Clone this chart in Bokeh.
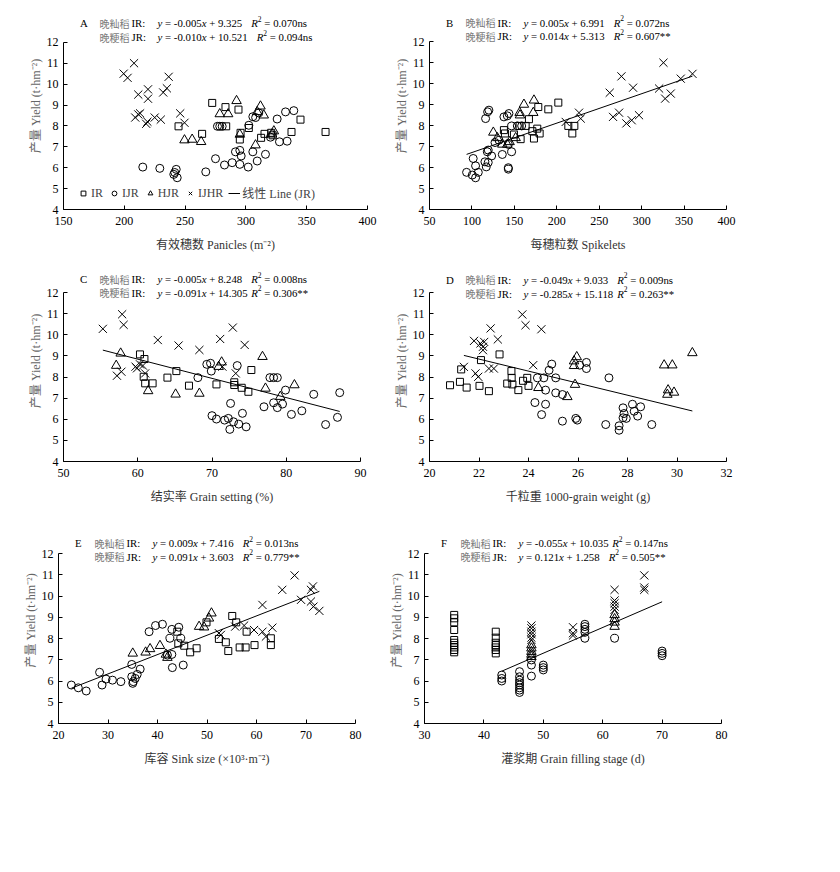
from bokeh.plotting import figure
from bokeh.models import Range1d, FixedTicker, Label, Legend, LegendItem
from bokeh.layouts import column, row
from bokeh.embed import file_html
from bokeh.resources import INLINE

# ---------------- data ----------------
Y_TICKS = [4, 5, 6, 7, 8, 9, 10, 11, 12]
Y_LABEL = "产量 Yield (t·hm⁻²)"

# Panel A: panicles
A_IR_x = [244.6, 264.0, 272.3, 283.2, 283.8, 293.9, 295.6, 295.0, 302.4, 312.5, 315.3, 320.8, 337.5, 344.9, 365.5, 322.0]
A_IR_y = [7.98, 7.62, 9.10, 8.90, 7.98, 8.78, 7.67, 7.35, 7.90, 7.43, 7.62, 7.67, 7.71, 8.30, 7.71, 7.55]
A_IJR_x = [215.2, 229.2, 240.7, 242.7, 243.5, 241.5, 267.0, 275.0, 282.4, 288.7, 291.4, 295.0, 296.1, 295.0, 301.9, 305.7,
           309.3, 316.1, 302.4, 305.7, 308.0, 310.6, 325.7, 332.6, 339.4, 327.6, 333.9, 320.2, 278.5, 280.5, 276.6]
A_IJR_y = [6.03, 5.97, 5.68, 5.92, 5.52, 5.77, 5.80, 6.43, 6.13, 6.24, 6.76, 6.83, 6.56, 6.16, 6.03, 6.76,
           6.32, 6.64, 8.03, 8.44, 8.40, 8.62, 8.33, 8.67, 8.73, 7.24, 7.27, 7.46, 7.98, 7.98, 7.98]
A_HJR_x = [292.3, 278.5, 285.4, 312.0, 309.3, 314.7, 295.0, 307.9, 323.0, 321.5, 249.5, 255.8, 263.2]
A_HJR_y = [9.20, 8.57, 8.57, 8.94, 8.67, 8.51, 7.59, 7.08, 7.75, 7.60, 7.32, 7.35, 7.24]
A_IJHR_x = [199.5, 202.7, 208.0, 211.5, 209.0, 211.5, 213.0, 219.5, 219.5, 218.0, 219.0, 225.0, 230.0, 232.0, 235.0, 236.5, 246.0, 249.5]
A_IJHR_y = [10.50, 10.30, 11.00, 9.50, 8.40, 8.55, 8.60, 9.75, 9.30, 8.10, 8.20, 8.40, 8.30, 9.60, 9.80, 10.35, 8.60, 8.15]

# Panel B: spikelets
B_IR_x = [201.8, 190.0, 178.2, 167.2, 156.2, 137.7, 138.9, 157.4, 173.1, 171.2, 177.0, 179.8, 213.6, 220.7, 218.3, 149.5, 163.3]
B_IR_y = [9.09, 8.77, 8.88, 8.30, 7.98, 7.78, 7.62, 7.35, 7.38, 7.73, 7.85, 7.62, 7.98, 7.98, 7.62, 7.57, 7.98]
B_IJR_x = [93.7, 100.4, 104.3, 107.5, 101.5, 104.3, 115.3, 116.9, 119.2, 123.2, 118.1, 119.2, 135.8, 146.8, 142.9, 142.9,
           116.1, 118.5, 120.0, 137.7, 141.7, 143.6, 146.8, 153.5, 158.6, 127.2, 131.9, 142.9]
B_IJR_y = [5.77, 5.64, 5.51, 5.77, 6.43, 6.08, 6.27, 6.03, 6.24, 6.55, 6.75, 6.83, 6.62, 6.75, 5.99, 5.92,
           8.33, 8.65, 8.73, 8.41, 8.46, 8.57, 7.98, 7.98, 7.98, 7.19, 7.30, 7.10]
B_HJR_x = [173.1, 161.3, 156.2, 156.6, 172.3, 125.2, 129.9, 135.8, 144.4, 141.7, 151.5]
B_HJR_y = [9.20, 9.00, 8.61, 8.49, 8.61, 7.67, 7.41, 7.10, 7.22, 7.10, 7.41]
B_IJHR_x = [325.7, 276.2, 262.4, 289.9, 320.6, 327.7, 334.3, 346.1, 359.9, 226.2, 228.2, 210.5, 266.3, 273.4, 282.0, 288.3, 296.9]
B_IJHR_y = [10.99, 10.34, 9.56, 9.80, 9.76, 9.28, 9.52, 10.23, 10.46, 8.61, 8.33, 8.17, 8.41, 8.61, 8.10, 8.25, 8.49]

# Panel C: grain setting
C_IR_x = [60.3, 60.9, 60.8, 61.0, 62.0, 64.0, 65.2, 66.9, 70.6, 73.0, 73.0, 74.0, 74.9, 75.3]
C_IR_y = [9.07, 8.85, 8.01, 7.70, 7.70, 7.97, 8.28, 7.59, 7.65, 7.75, 7.62, 7.49, 7.30, 8.33]
C_IJR_x = [69.3, 69.8, 69.9, 68.1, 73.4, 77.8, 78.3, 78.8, 79.9, 83.7, 87.2, 77.0, 78.3, 78.8, 79.5, 80.7, 82.1, 85.3,
           86.9, 70.0, 70.6, 71.7, 72.2, 72.4, 72.5, 72.9, 73.6, 74.1, 74.6]
C_IJR_y = [8.60, 8.65, 8.28, 7.97, 8.54, 7.97, 7.97, 7.97, 7.38, 7.18, 7.26, 6.59, 6.78, 6.55, 6.72, 6.23, 6.40, 5.75,
           6.09, 6.17, 6.01, 5.96, 6.04, 5.52, 6.75, 5.88, 5.77, 6.28, 5.64]
C_HJR_x = [57.7, 57.1, 61.4, 65.1, 68.3, 71.3, 70.9, 76.8, 77.2, 79.2, 81.1]
C_HJR_y = [9.12, 8.54, 7.34, 7.18, 7.22, 8.70, 8.49, 8.96, 7.46, 7.07, 7.62]
C_IJHR_x = [55.3, 57.9, 58.1, 62.7, 65.5, 68.3, 71.1, 72.8, 74.4, 57.2, 57.8, 59.7, 59.9, 60.3, 60.7, 61.0, 71.4, 73.2]
C_IJHR_y = [10.28, 10.97, 10.47, 9.75, 9.49, 9.28, 9.80, 10.34, 9.52, 8.06, 8.25, 8.49, 8.41, 8.60, 8.54, 8.17, 8.49, 8.17]

# Panel D: 1000-grain weight
D_IR_x = [20.83, 21.23, 21.28, 21.50, 22.02, 22.08, 22.40, 22.83, 23.14, 23.32, 23.31, 23.35, 23.59, 23.78, 23.95, 24.00]
D_IR_y = [7.61, 7.77, 8.36, 7.50, 7.58, 8.80, 7.33, 9.07, 7.69, 7.96, 8.28, 7.65, 7.38, 7.82, 7.96, 7.58]
D_IJR_x = [24.94, 24.83, 24.36, 24.62, 25.10, 24.69, 25.10, 25.37, 24.26, 24.69, 24.53, 25.37, 25.91, 25.97, 26.07,
           26.34, 26.34, 27.25, 27.12, 27.66, 27.66, 27.82, 27.86, 27.82, 27.95, 28.20, 28.27, 28.41, 28.53, 28.98]
D_IJR_y = [8.61, 8.32, 7.96, 7.96, 7.96, 7.38, 7.25, 7.17, 6.79, 6.71, 6.22, 5.91, 6.04, 5.96, 8.56,
           8.69, 8.40, 7.96, 5.75, 5.69, 5.48, 6.54, 6.27, 6.07, 6.04, 6.71, 6.38, 6.15, 6.59, 5.75]
D_HJR_x = [25.95, 25.84, 25.84, 25.88, 24.40, 25.57, 29.48, 29.81, 30.62, 29.64, 29.61, 29.88]
D_HJR_y = [8.95, 8.75, 8.53, 7.64, 7.49, 7.06, 8.56, 8.56, 9.14, 7.38, 7.17, 7.27]
D_IJHR_x = [21.39, 21.80, 21.86, 21.97, 22.06, 22.16, 22.21, 22.16, 22.47, 22.76, 22.40, 22.60, 23.75, 23.88, 24.52, 24.19]
D_IJHR_y = [8.48, 9.71, 8.17, 8.01, 9.59, 9.43, 9.66, 9.27, 10.30, 9.78, 8.40, 8.40, 10.96, 10.45, 10.26, 8.56]

# Panel E: sink size
E_IR_x = [55.1, 55.9, 58.0, 52.4, 53.8, 54.3, 56.6, 57.8, 59.6, 62.9, 62.9, 49.9, 44.0, 44.2, 45.4, 46.6, 47.9]
E_IR_y = [9.06, 8.76, 8.32, 7.98, 7.82, 7.41, 7.58, 7.58, 7.69, 8.01, 7.69, 8.76, 8.32, 7.77, 7.66, 7.35, 7.54]
E_IJR_x = [22.6, 24.0, 25.6, 28.3, 28.8, 29.6, 30.9, 32.6, 34.8, 35.1, 35.5, 35.9, 36.5, 34.8, 35.0, 38.3, 39.6, 41.0,
           42.9, 44.3, 42.5, 44.7, 42.9, 43.0, 45.2, 42.0]
E_IJR_y = [5.81, 5.68, 5.53, 6.41, 5.81, 6.09, 6.04, 5.97, 6.20, 5.97, 6.12, 6.31, 6.56, 6.78, 5.89, 8.32, 8.61, 8.67,
           8.43, 8.53, 8.01, 8.01, 7.25, 6.63, 6.75, 7.22]
E_HJR_x = [50.9, 50.4, 48.4, 49.4, 35.0, 37.6, 38.5, 40.5, 41.7, 42.0]
E_HJR_y = [9.19, 8.95, 8.56, 8.53, 7.30, 7.35, 7.51, 7.66, 7.25, 7.10]
E_IJHR_x = [67.7, 65.2, 71.4, 71.0, 69.0, 71.0, 71.5, 72.7, 61.2, 55.7, 57.5, 59.5, 61.2, 61.9, 63.2, 52.4, 52.8]
E_IJHR_y = [10.97, 10.29, 10.45, 10.29, 9.82, 9.74, 9.50, 9.30, 9.58, 8.56, 8.61, 8.40, 8.32, 8.09, 8.51, 8.25, 8.17]

# Panel F: grain filling stage
F_IR_x = [35, 35, 35, 35, 35, 35, 35, 35, 35, 35, 42, 42, 42, 42, 42, 42, 42]
F_IR_y = [9.11, 8.95, 8.76, 8.40, 7.93, 7.80, 7.69, 7.58, 7.46, 7.35, 8.32, 8.04, 7.80, 7.69, 7.58, 7.46, 7.30]
F_IJR_x = [43, 43, 43, 46, 46, 46, 46, 46, 46, 46, 46, 48, 48, 48, 50, 50, 50, 57, 57, 57, 57, 57, 62, 70, 70, 70]
F_IJR_y = [6.28, 6.12, 6.00, 6.44, 6.20, 6.04, 5.92, 5.81, 5.68, 5.57, 5.46, 6.99, 6.75, 6.23, 6.75, 6.63, 6.52,
           8.67, 8.56, 8.43, 8.29, 8.01, 8.01, 7.41, 7.30, 7.19]
F_HJR_x = [48, 48, 48, 48, 48, 62, 62, 62, 62]
F_HJR_y = [7.69, 7.54, 7.38, 7.25, 7.14, 9.11, 8.92, 8.76, 8.56]
F_IJHR_x = [48, 48, 48, 48, 48, 48, 55, 55, 55, 62, 62, 62, 62, 62, 67, 67, 67]
F_IJHR_y = [8.61, 8.48, 8.32, 8.20, 8.04, 7.93, 8.53, 8.25, 8.14, 10.29, 9.79, 9.66, 9.50, 9.35, 10.97, 10.40, 10.29]

# header equations: (slope, intercept, R2+significance)
PANEL_LETTERS = ["A", "B", "C", "D", "E", "F"]
X_LABELS = ["有效穗数 Panicles (m⁻²)", "每穗粒数 Spikelets", "结实率 Grain setting (%)",
            "千粒重 1000-grain weight (g)", "库容 Sink size (×10³·m⁻²)", "灌浆期 Grain filling stage (d)"]
X_RANGES = [(150, 400), (50, 400), (50, 90), (20, 32), (20, 80), (30, 80)]
X_TICKS = [[150, 200, 250, 300, 350, 400], [50, 100, 150, 200, 250, 300, 350, 400], [50, 60, 70, 80, 90],
           [20, 22, 24, 26, 28, 30, 32], [20, 30, 40, 50, 60, 70, 80], [30, 40, 50, 60, 70, 80]]
IR_EQ = [("-0.005", "9.325", "0.070ns"), ("0.005", "6.991", "0.072ns"), ("-0.005", "8.248", "0.008ns"),
         ("-0.049", "9.033", "0.009ns"), ("0.009", "7.416", "0.013ns"), ("-0.055", "10.035", "0.147ns")]
JR_EQ = [("-0.010", "10.521", "0.094ns"), ("0.014", "5.313", "0.607**"), ("-0.091", "14.305", "0.306**"),
         ("-0.285", "15.118", "0.263**"), ("0.091", "3.603", "0.779**"), ("0.121", "1.258", "0.505**")]
JR_CODES = ["晚粳稻 JR:", "晚粳稻 JR:", "晚粳稻 IR:", "晚粳稻 JR:", "晚粳稻 JR:", "晚粳稻 JR:"]
IR_CODE = "晚籼稻 IR:"
SHOW_JR_LINE = [False, True, True, True, True, True]

DATA = [
    (A_IR_x, A_IR_y, A_IJR_x, A_IJR_y, A_HJR_x, A_HJR_y, A_IJHR_x, A_IJHR_y),
    (B_IR_x, B_IR_y, B_IJR_x, B_IJR_y, B_HJR_x, B_HJR_y, B_IJHR_x, B_IJHR_y),
    (C_IR_x, C_IR_y, C_IJR_x, C_IJR_y, C_HJR_x, C_HJR_y, C_IJHR_x, C_IJHR_y),
    (D_IR_x, D_IR_y, D_IJR_x, D_IJR_y, D_HJR_x, D_HJR_y, D_IJHR_x, D_IJHR_y),
    (E_IR_x, E_IR_y, E_IJR_x, E_IJR_y, E_HJR_x, E_HJR_y, E_IJHR_x, E_IJHR_y),
    (F_IR_x, F_IR_y, F_IJR_x, F_IJR_y, F_HJR_x, F_HJR_y, F_IJHR_x, F_IJHR_y),
]

# ---------------- layout / style ----------------
LATIN = "'Liberation Serif'"
MIXED = "'Liberation Serif', 'Noto Sans CJK SC'"
CJK = "'Noto Sans CJK SC'"
GREY = "#7a7a7a"

# (width, height, border_left, border_right, border_top, border_bottom); page has no body margin
GEOM = [(380, 258, 63, 13, 42, 48), (452, 258, 49, 106, 41, 49),
        (380, 257, 63, 20, 34, 54), (452, 257, 49, 106, 34, 54),
        (375, 260, 58, 20, 38, 52), (457, 260, 49, 111, 38, 52)]
TOP_PAD = 2
# header baselines above the y=12 level (line 1, line 2)
HDR = [(18.5, 4.5), (18.7, 5.2), (13.3, -0.4), (13.0, -1.3), (10.3, -3.4), (10.3, -3.4)]
GAP1 = [9, 9, 9, 9, 9, 3.5]
GAP2 = [9, 9, 3.5, 3.5, 9, 9]

HS = 10.8  # header font size
W_REG = {' ': 0.25, '=': 0.564, '+': 0.564, '-': 0.333, '.': 0.25, ':': 0.278, '*': 0.5,
         'n': 0.5, 's': 0.389, 'I': 0.333, 'R': 0.667, 'J': 0.389}
W_IT = {'x': 0.444, 'y': 0.444, 'R': 0.611}


def tw(s, italic=False, size=HS):
    tbl = W_IT if italic else W_REG
    return sum(tbl.get(c, 0.5) for c in s) * size


def lab(p, x, y, text, font=LATIN, size=HS, color="black", style="normal"):
    p.add_layout(Label(x=x, y=y, x_units="screen", y_units="screen", text=text,
                       text_font=font, text_font_size=f"{size}px", text_color=color,
                       text_font_style=style, text_baseline="alphabetic", text_align="left"))


def header_line(p, x0, yb, code, eq, gap):
    cn, en = code.split(" ")
    lab(p, x0, yb, cn, font=CJK, size=10, color=GREY)
    lab(p, x0 + 32, yb, en)
    c = x0 + 58
    lab(p, c, yb, "y", style="italic")
    c += tw("y", True) + tw(" ")
    t1 = "= " + eq[0]
    lab(p, c, yb, t1)
    c += tw(t1)
    lab(p, c, yb, "x", style="italic")
    c += tw("x", True) + tw(" ")
    t2 = "+ " + eq[1]
    lab(p, c, yb, t2)
    c += tw(t2) + gap
    lab(p, c, yb, "R", style="italic")
    c += tw("R", True)
    lab(p, c, yb + 4.5, "2", size=7.5)
    c += 3.8 + tw(" ")
    lab(p, c, yb, "= " + eq[2])


def build(i):
    W, H, bl, br, bt, bb = GEOM[i]
    fh = H - bt - bb                 # height of the 4..12 band
    extra = bt - TOP_PAD             # header room kept inside the frame
    y_top = 12 + extra * 8.0 / fh
    p = figure(width=W, height=H, output_backend="svg", toolbar_location=None,
               x_range=Range1d(*X_RANGES[i]), y_range=Range1d(4, y_top),
               min_border_left=bl, min_border_right=br, min_border_top=TOP_PAD, min_border_bottom=bb)
    p.outline_line_color = None
    p.grid.visible = False
    p.background_fill_color = "white"
    p.border_fill_color = "white"
    p.xaxis.ticker = FixedTicker(ticks=X_TICKS[i])
    p.yaxis.ticker = FixedTicker(ticks=Y_TICKS)
    p.yaxis.bounds = (4, 12)
    p.xaxis.axis_label = X_LABELS[i]
    p.yaxis.axis_label = Y_LABEL
    for ax in (p.xaxis[0], p.yaxis[0]):
        ax.major_tick_in = 4
        ax.major_tick_out = 0
        ax.minor_tick_line_color = None
        ax.axis_line_color = "black"
        ax.major_tick_line_color = "black"
        ax.major_label_text_font = LATIN
        ax.major_label_text_font_size = "12px"
        ax.major_label_text_color = "black"
        ax.axis_label_text_font = MIXED
        ax.axis_label_text_font_size = "12px"
        ax.axis_label_text_font_style = "normal"
    p.xaxis.major_label_standoff = 7
    p.xaxis.axis_label_standoff = 10
    p.xaxis.axis_label_text_color = "#333333"
    p.yaxis.major_label_standoff = 5
    p.yaxis.axis_label_standoff = 1
    p.yaxis.axis_label_text_color = "#666666"

    irx, iry, ijx, ijy, hjx, hjy, ihx, ihy = DATA[i]
    common = dict(line_color="black", fill_color=None, line_width=1)
    r_ir = p.scatter(irx, iry, marker="square", size=7, **common)
    r_ij = p.scatter(ijx, ijy, marker="circle", size=8, **common)
    r_hj = p.scatter(hjx, hjy, marker="triangle", size=9.5, **common)
    r_ih = p.scatter(ihx, ihy, marker="x", size=11.5, **common)

    if SHOW_JR_LINE[i]:
        jx = ijx + hjx + ihx
        a, b = float(JR_EQ[i][0]), float(JR_EQ[i][1])
        x0, x1 = min(jx), max(jx)
        p.line([x0, x1], [a * x0 + b, a * x1 + b], line_color="black", line_width=1)
    else:
        r_line = p.line([float("nan")], [float("nan")], line_color="black", line_width=1)
        leg = Legend(items=[LegendItem(label="IR", renderers=[r_ir]),
                            LegendItem(label="IJR", renderers=[r_ij]),
                            LegendItem(label="HJR", renderers=[r_hj]),
                            LegendItem(label="IJHR", renderers=[r_ih]),
                            LegendItem(label="线性 Line (JR)", renderers=[r_line])],
                     orientation="horizontal", location=(14, 7), padding=0, margin=0,
                     spacing=5, label_standoff=2, glyph_width=12, glyph_height=12,
                     label_height=12, label_width=10,
                     label_text_font=MIXED, label_text_font_size="12px",
                     background_fill_alpha=0, border_line_color=None)
        p.add_layout(leg)

    up1, up2 = HDR[i]
    lab(p, 16.5, fh + up1, PANEL_LETTERS[i])
    header_line(p, 36, fh + up1, IR_CODE, IR_EQ[i], GAP1[i])
    header_line(p, 36, fh + up2, JR_CODES[i], JR_EQ[i], GAP2[i])
    return p


figs = [build(i) for i in range(6)]
layout = column(row(figs[0], figs[1]), row(figs[2], figs[3]), row(figs[4], figs[5]))
open("out.html", "w").write(file_html(layout, INLINE))
